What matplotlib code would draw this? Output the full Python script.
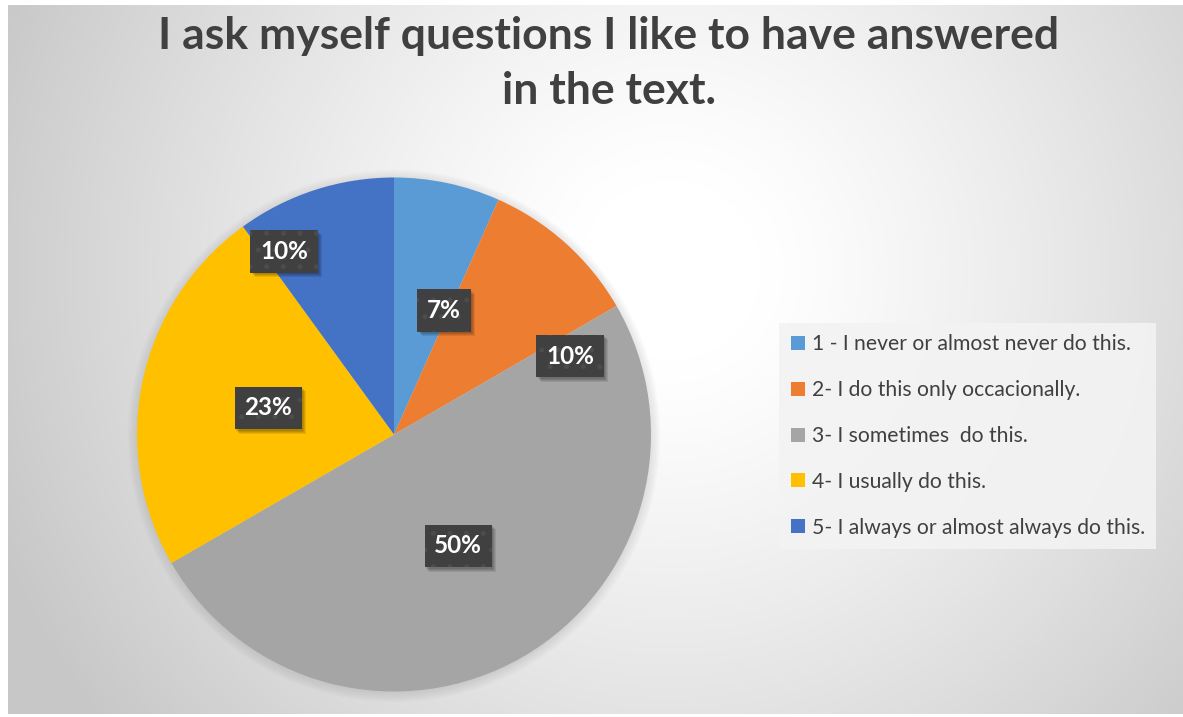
import numpy as np
import matplotlib.pyplot as plt
from matplotlib.lines import Line2D
from matplotlib.patches import Circle, Rectangle

TITLE = 'I ask myself questions I like to have answered\nin the text.'
CATEGORIES = ['1 - I never or almost never do this.',
              '2- I do this only occacionally.',
              '3- I sometimes  do this.',
              '4- I usually do this.',
              '5- I always or almost always do this.']
COUNTS = [2, 3, 15, 7, 3]
COLORS = ['#5B9BD5', '#ED7D31', '#A5A5A5', '#FFC000', '#4472C4']

# excel "best fit" label nudges: radius fraction, clockwise shift in degrees
LABEL_R = [0.52, 0.75, 0.50, 0.50, 0.83]
LABEL_SHIFT = [10, 24, 0, 0, -13]

W, H = 1183, 717
plt.rcParams['font.family'] = ['Lato', 'DejaVu Sans']
plt.rcParams['hatch.linewidth'] = 1.2
fig = plt.figure(figsize=(W / 100, H / 100), dpi=100)

# radial gradient background of the chart area
x0, y0, x1, y1 = 8, 5, W, 714
bg = fig.add_axes([x0 / W, 1 - y1 / H, (x1 - x0) / W, (y1 - y0) / H])
xx, yy = np.meshgrid(np.arange(x0, x1), np.arange(y0, y1))
d = np.hypot(xx - 670, yy - 270)
g = 255 - np.clip((d - 90) / 640, 0, 1) ** 1.2 * 56
img = np.dstack([g, g, g]).astype(np.uint8)
bg.imshow(img, aspect='auto', interpolation='bilinear')
bg.set_axis_off()

# pie
cx, cy, r = 394, 434.5, 257
pad = 1.08
ax = fig.add_axes([(cx - r * pad) / W, (H - cy - r * pad) / H,
                   2 * r * pad / W, 2 * r * pad / H])

# soft shadow round the pie
for k in range(6):
    ax.add_patch(Circle((0.0, -0.006), 1.0 + 0.007 * k, color='#707070',
                        alpha=0.03, lw=0, zorder=0))

wedges, _ = ax.pie(COUNTS, colors=COLORS, startangle=90, counterclock=False,
                   radius=1.0, wedgeprops=dict(linewidth=0))
ax.set_xlim(-pad, pad)
ax.set_ylim(-pad, pad)
ax.set_aspect('equal')
ax.set_axis_off()

total = sum(COUNTS)
labels = []
for w, lr, sh, n in zip(wedges, LABEL_R, LABEL_SHIFT, COUNTS):
    ang = np.deg2rad((w.theta1 + w.theta2) / 2 - sh)
    t = ax.text(lr * np.cos(ang), lr * np.sin(ang), f'{n / total:.0%}',
                ha='center', va='center', color='white', fontsize=17.5,
                fontweight='bold', zorder=6,
                bbox=dict(boxstyle='square,pad=0.4', fc='#404040',
                          ec='#4c4c4c', hatch='.', lw=0))
    labels.append(t)

# blurred drop shadow under the label boxes
fig.canvas.draw()
inv = ax.transData.inverted()
for t in labels:
    bb = t.get_bbox_patch().get_window_extent()
    for k in range(4):
        off = 1.5 + k
        (ax0, ay0), (ax1, ay1) = inv.transform([(bb.x0 + off, bb.y0 - off),
                                                (bb.x1 + off, bb.y1 - off)])
        ax.add_patch(Rectangle((ax0, ay0), ax1 - ax0, ay1 - ay0,
                               fc='black', lw=0, alpha=0.09, zorder=4))

# legend
handles = [Line2D([], [], marker='s', ls='none', markersize=10,
                  markerfacecolor=c, markeredgewidth=0) for c in COLORS]
leg = fig.legend(handles, CATEGORIES, loc='center left',
                 bbox_to_anchor=(779 / W, 1 - 436 / H), fontsize=15.2,
                 frameon=True, fancybox=False, facecolor='#F3F3F3',
                 edgecolor='none', framealpha=0.9, labelspacing=1.22,
                 handlelength=0.7, handletextpad=0.3, borderpad=0.55,
                 borderaxespad=0, labelcolor='#404040')

fig.text(609 / W, 1 - 16 / H, TITLE, ha='center', va='top', fontsize=32,
         fontweight='bold', color='#404040', linespacing=1.45)

fig.savefig('out.png', dpi=100)
